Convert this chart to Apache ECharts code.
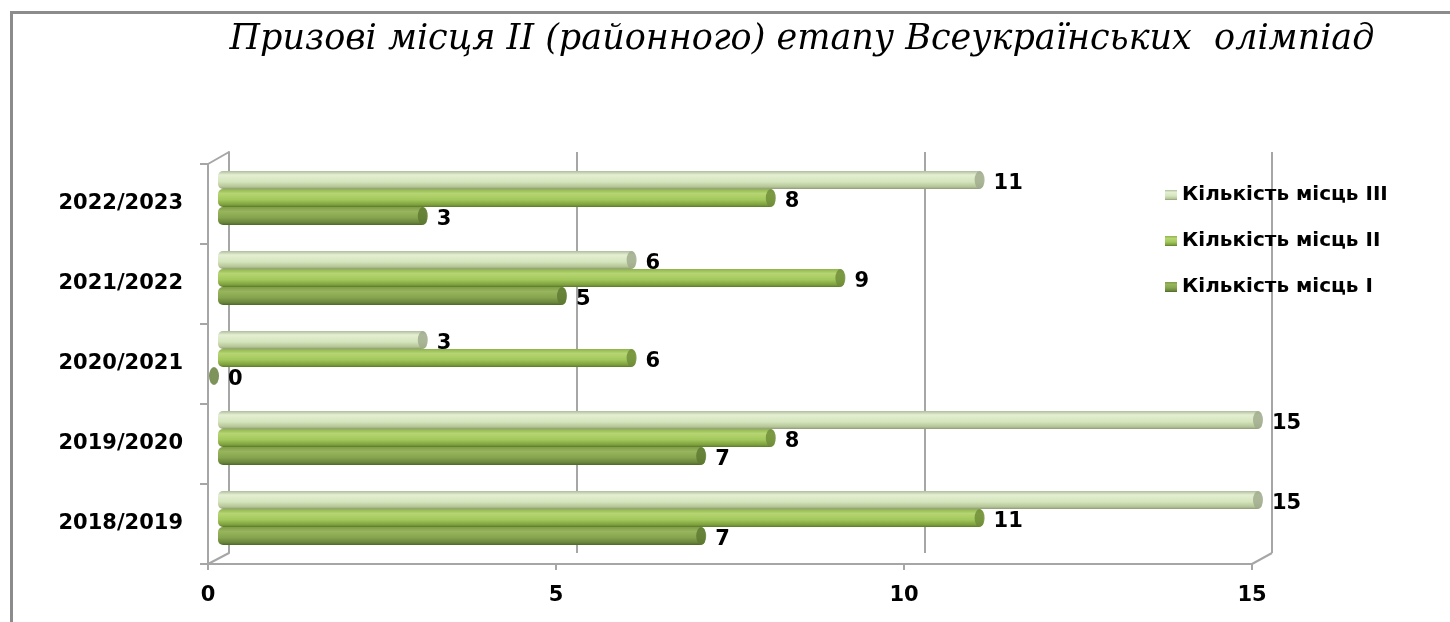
<!DOCTYPE html>
<html>
<head>
<meta charset="utf-8">
<script src="https://cdn.jsdelivr.net/npm/echarts@6/dist/echarts.min.js"></script>
<style>
  html, body { margin: 0; padding: 0; background: #fff; }
  #wrap { position: relative; width: 1450px; height: 622px; overflow: hidden; }
  #frame { position: absolute; left: 10px; top: 11px; right: -5px; bottom: -5px;
           border-top: 3px solid #8c8c8c; border-left: 3px solid #8c8c8c; }
  #chart { position: absolute; left: 0; top: 0; width: 1450px; height: 622px; }
</style>
</head>
<body>
<div id="wrap">
  <div id="frame"></div>
  <div id="chart"></div>
</div>
<script>
// ---- data ----
const categories = ['2018/2019', '2019/2020', '2020/2021', '2021/2022', '2022/2023'];
const placesI   = [7, 7, 0, 5, 3];
const placesII  = [11, 8, 6, 9, 8];
const placesIII = [15, 15, 3, 6, 11];
const seriesNames = ['Кількість місць III', 'Кількість місць II', 'Кількість місць I'];
const xMin = 0, xMax = 15, xInterval = 5;
const titleText = 'Призові місця ІІ (районного) етапу Всеукраїнських  олімпіад';

// ---- layout (pixel planes of the pseudo-3D box) ----
const W = 1450, H = 622;
const front = { l: 208, r: 1252, t: 164, b: 564 };
const mid   = { l: 218, r: 1262, t: 158, b: 558 };
const back  = { l: 229, r: 1272, t: 152, b: 553 };
const gridOf = p => ({ left: p.l, right: W - p.r, top: p.t, bottom: H - p.b, containLabel: false });

const axisGrey = '#a6a6a6';
const font = 'DejaVu Sans';

// order: III (top of band), II, I (bottom of band)
const values = [placesIII, placesII, placesI];
const fills = [
  new echarts.graphic.LinearGradient(0, 0, 0, 1, [
    { offset: 0, color: '#b0bd9c' }, { offset: 0.22, color: '#e4efd3' },
    { offset: 0.6, color: '#d5e5bc' }, { offset: 0.88, color: '#b4c496' }, { offset: 1, color: '#8e9b79' }]),
  new echarts.graphic.LinearGradient(0, 0, 0, 1, [
    { offset: 0, color: '#8fb34c' }, { offset: 0.25, color: '#b5d572' },
    { offset: 0.6, color: '#a2c75b' }, { offset: 0.88, color: '#7d9f3d' }, { offset: 1, color: '#5c7a2b' }]),
  new echarts.graphic.LinearGradient(0, 0, 0, 1, [
    { offset: 0, color: '#7f9c47' }, { offset: 0.25, color: '#98b55e' },
    { offset: 0.6, color: '#86a34d' }, { offset: 0.88, color: '#66833a' }, { offset: 1, color: '#4d6627' }])
];
const capColors = ['#9da98b', '#6d8b37', '#5d7831'];
const barW = 18;
const offsets = [-barW, 0, barW];

const chart = echarts.init(document.getElementById('chart'), null, { renderer: 'canvas' });

const series = [];
values.forEach((vals, k) => {
  series.push({
    name: seriesNames[k], type: 'bar', xAxisIndex: 2, yAxisIndex: 2,
    data: vals, barWidth: barW, barGap: '0%',
    itemStyle: { color: fills[k], borderRadius: 5 },
    label: { show: true, position: 'right', distance: 10, offset: [0, 4],
             fontFamily: font, fontWeight: 'bold', fontSize: 21, color: '#000' },
    z: 3
  });
});
values.forEach((vals, k) => {
  series.push({
    name: 'cap' + k, type: 'scatter', xAxisIndex: 2, yAxisIndex: 2,
    data: vals.map((v, i) => [v, i]),
    symbol: 'circle', symbolSize: [10, barW], symbolOffset: [-4, offsets[k]],
    itemStyle: { color: capColors[k] }, silent: true, z: 4
  });
});

chart.setOption({
  animation: false,
  backgroundColor: 'transparent',
  title: {
    text: titleText, left: 797, top: 17, textAlign: 'center',
    textStyle: { fontFamily: 'DejaVu Serif', fontStyle: 'italic', fontWeight: 'normal', fontSize: 35, color: '#000' }
  },
  legend: {
    data: seriesNames, orient: 'vertical', left: 1160, top: 180,
    icon: 'rect', itemWidth: 12, itemHeight: 10, itemGap: 26, itemTextGap: 5,
    textStyle: { fontFamily: font, fontWeight: 'bold', fontSize: 20, lineHeight: 20, color: '#000' },
    selectedMode: false
  },
  grid: [gridOf(back), gridOf(front), gridOf(mid)],
  xAxis: [
    { gridIndex: 0, type: 'value', min: xMin, max: xMax, interval: xInterval,
      axisLine: { show: false }, axisTick: { show: false }, axisLabel: { show: false },
      splitLine: { show: true, lineStyle: { color: axisGrey, width: 2 } } },
    { gridIndex: 1, type: 'value', min: xMin, max: xMax, interval: xInterval,
      axisLine: { show: true, lineStyle: { color: axisGrey, width: 2 } },
      axisTick: { show: true, length: 6, lineStyle: { color: axisGrey, width: 2 } },
      axisLabel: { show: true, margin: 21, fontFamily: font, fontWeight: 'bold', fontSize: 21, color: '#000' },
      splitLine: { show: false } },
    { gridIndex: 2, type: 'value', min: xMin, max: xMax, interval: xInterval, show: false }
  ],
  yAxis: [
    { gridIndex: 0, type: 'category', data: categories,
      axisLine: { show: true, lineStyle: { color: axisGrey, width: 2 } },
      axisTick: { show: false }, axisLabel: { show: false }, splitLine: { show: false } },
    { gridIndex: 1, type: 'category', data: categories,
      axisLine: { show: true, lineStyle: { color: axisGrey, width: 2 } },
      axisTick: { show: true, length: 8, lineStyle: { color: axisGrey, width: 2 } },
      axisLabel: { show: true, margin: 25, padding: [6, 0, 0, 0], fontFamily: font, fontWeight: 'bold', fontSize: 21, color: '#000' },
      splitLine: { show: false } },
    { gridIndex: 2, type: 'category', data: categories, show: false }
  ],
  graphic: [
    { type: 'line', shape: { x1: front.l, y1: front.t, x2: back.l, y2: back.t }, style: { stroke: axisGrey, lineWidth: 2 }, silent: true },
    { type: 'line', shape: { x1: front.l, y1: front.b, x2: back.l, y2: back.b }, style: { stroke: axisGrey, lineWidth: 2 }, silent: true },
    { type: 'line', shape: { x1: front.r, y1: front.b, x2: back.r, y2: back.b }, style: { stroke: axisGrey, lineWidth: 2 }, silent: true }
  ],
  series: series
});
</script>
</body>
</html>
